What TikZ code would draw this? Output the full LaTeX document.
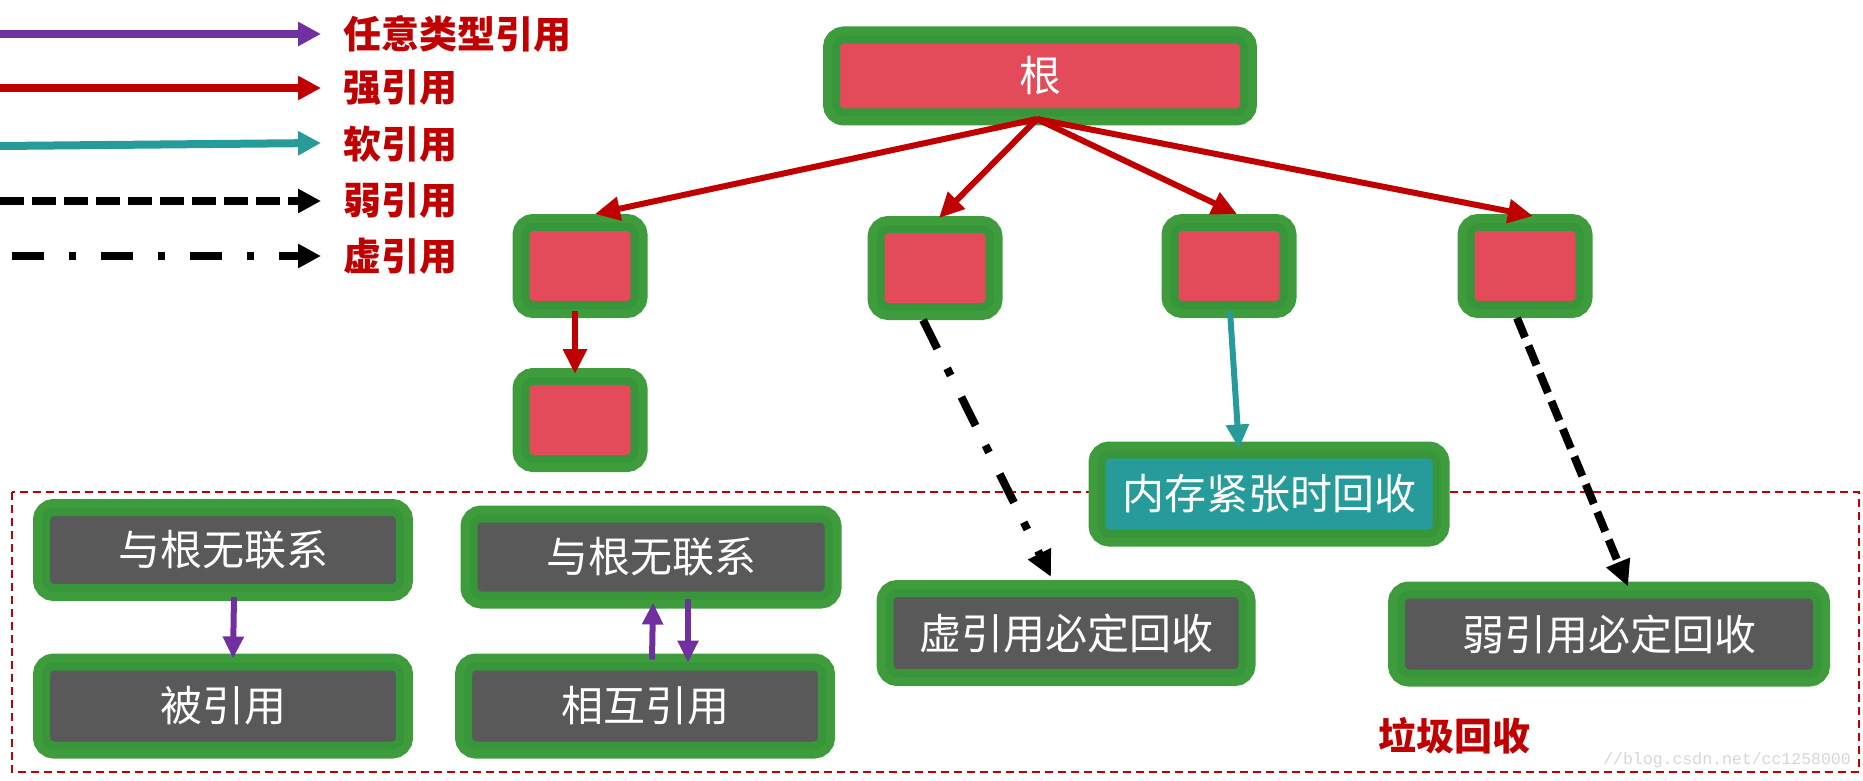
\documentclass[tikz,border=0pt]{standalone}
\usepackage{fontspec}
\newfontfamily\cjk{Noto Sans CJK SC}
\newfontfamily\wmfont{Liberation Mono}
\usetikzlibrary{arrows.meta}
\definecolor{gOut}{HTML}{3E9C3C}
\definecolor{gIn}{HTML}{37953A}
\definecolor{boxRed}{HTML}{E44B5A}
\definecolor{boxGray}{HTML}{595959}
\definecolor{boxTeal}{HTML}{269B99}
\definecolor{lRed}{HTML}{C00000}
\definecolor{lPurple}{HTML}{7030A0}
\definecolor{lTeal}{HTML}{269B99}
\definecolor{wmGray}{HTML}{D6D6D6}
\begin{document}
\begin{tikzpicture}[x=1pt,y=-1pt,
  gbox/.style={draw=gIn, line width=8pt, rounded corners=8pt,
    preaction={draw=gOut, line width=26pt},
    inner sep=0pt, outer sep=13pt, text=white,
    font=\cjk\fontsize{42}{50}\selectfont},
  redbox/.style={gbox, fill=boxRed, minimum width=109pt, minimum height=78pt},
  graybox/.style={gbox, fill=boxGray, minimum height=78pt},
  tealbox/.style={gbox, fill=boxTeal, minimum height=79pt},
  legtext/.style={text=lRed, inner sep=0pt, font=\cjk\bfseries\fontsize{38}{44}\selectfont},
  legline/.style={line width=8pt, -{Triangle[length=23pt,width=23pt]}},
  redarrow/.style={lRed, line width=6pt, -{Triangle[length=25pt,width=23pt]}},
  tealarrow/.style={lTeal, line width=6pt, -{Triangle[length=24pt,width=22pt]}},
  purparrow/.style={lPurple, line width=6pt, -{Triangle[length=22pt,width=20pt]}},
  blackdash/.style={black, line width=8pt, dash pattern=on 21pt off 9pt, -{Triangle[length=26pt,width=24pt]}},
  blackdashdot/.style={black, line width=8pt, dash pattern=on 32pt off 22pt on 8pt off 24pt, -{Triangle[length=26pt,width=24pt]}}
]
\useasboundingbox (0,0) rectangle (1863,781);

% legend
\coordinate (lp0) at (0,34);   \coordinate (lp1) at (321,34);
\coordinate (lr0) at (0,88);   \coordinate (lr1) at (321,88);
\coordinate (lt0) at (0,146);  \coordinate (lt1) at (321,143);
\coordinate (lw0) at (0,201);  \coordinate (lw1) at (321,201);
\coordinate (lv0) at (12,256); \coordinate (lv1) at (321,256);
\draw[legline, lPurple] (lp0) -- (lp1);
\draw[legline, lRed] (lr0) -- (lr1);
\draw[legline, lTeal] (lt0) -- (lt1);
\draw[legline, black, dash pattern=on 24pt off 8pt] (lw0) -- (lw1);
\draw[legline, black, dash pattern=on 32pt off 25pt on 7pt off 25pt] (lv0) -- (lv1);
\node[legtext, anchor=west] (t1) at (343,34) {任意类型引用};
\node[legtext, anchor=west] (t2) at (343,88) {强引用};
\node[legtext, anchor=west] (t3) at (343,144) {软引用};
\node[legtext, anchor=west] (t4) at (343,201) {弱引用};
\node[legtext, anchor=west] (t5) at (343,256) {虚引用};

% garbage collection region
\draw[lRed, line width=2pt, dash pattern=on 8pt off 5pt] (12,492) rectangle (1859,772);

% nodes
\node[redbox, minimum width=408pt, minimum height=73pt] (root) at (1040,76) {根};
\node[redbox] (c1) at (580,266) {};
\node[redbox] (c1b) at (580,420) {};
\node[redbox] (c2) at (935,268) {};
\node[redbox] (c3) at (1229,266) {};
\node[redbox] (c4) at (1525,266) {};
\node[tealbox, minimum width=335pt] (soft) at (1269,494) {内存紧张时回收};
\node[graybox, minimum width=353pt, minimum height=80pt] (xu) at (1066,633) {虚引用必定回收};
\node[graybox, minimum width=416pt, minimum height=79pt] (ruo) at (1609,634) {弱引用必定回收};
\node[graybox, minimum width=354pt, minimum height=76pt] (L1) at (223,550) {与根无联系};
\node[graybox, minimum width=354pt, minimum height=79pt] (L2) at (223,706) {被引用};
\node[graybox, minimum width=355pt, minimum height=77pt] (R1) at (651,557) {与根无联系};
\node[graybox, minimum width=354pt, minimum height=79pt] (R2) at (645,706) {相互引用};

% connectors
\coordinate (rf) at (1037,119);
\draw[redarrow] (rf) -- ([xshift=15pt]c1.north);
\draw[redarrow] (rf) -- ([xshift=4pt,yshift=-2pt]c2.north);
\draw[redarrow] (rf) -- ([xshift=8pt]c3.north);
\draw[redarrow] (rf) -- ([xshift=8pt,yshift=-2pt]c4.north);
\draw[redarrow] ([xshift=-5pt,yshift=7pt]c1.south) -- ([xshift=-5pt,yshift=-6pt]c1b.north);
\draw[blackdashdot] ([xshift=-12pt]c2.south) -- ([xshift=-15pt,yshift=3pt]xu.north);
\draw[tealarrow] ([xshift=1pt,yshift=7pt]c3.south) -- ([xshift=-30pt,yshift=-7pt]soft.north);
\draw[blackdash] ([xshift=-8pt]c4.south) -- ([xshift=19pt,yshift=-5pt]ruo.north);
\draw[purparrow] ([xshift=11pt,yshift=4pt]L1.south) -- ([xshift=10pt,yshift=-5pt]L2.north);
\draw[purparrow] ([xshift=7pt,yshift=-6pt]R2.north) -- ([xshift=2pt,yshift=6pt]R1.south);
\draw[purparrow] ([xshift=37pt,yshift=10pt]R1.south) -- ([xshift=43pt,yshift=-9pt]R2.north);

% labels
\node[legtext] (gc) at (1454,736) {垃圾回收};
\node[text=wmGray, inner sep=0pt, font=\wmfont\fontsize{16.5}{18}\selectfont] (wm) at (1727,760) {//blog.csdn.net/cc1258000};
\end{tikzpicture}
\end{document}
